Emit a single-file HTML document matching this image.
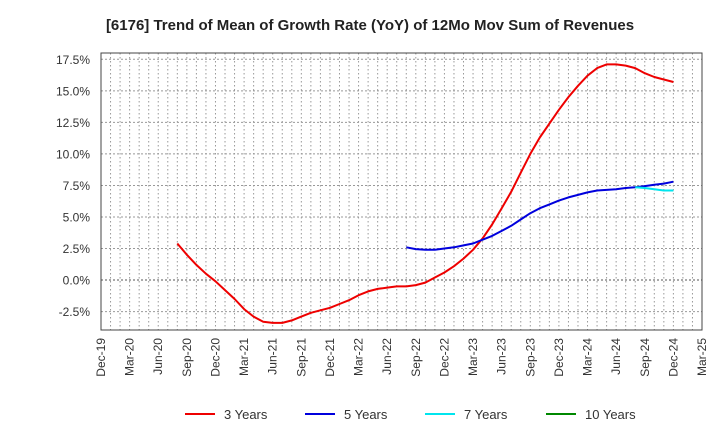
<!DOCTYPE html>
<html><head><meta charset="utf-8"><style>
body{margin:0;background:#fff;font-family:"Liberation Sans",sans-serif;}
svg text{font-family:"Liberation Sans",sans-serif;}
</style></head><body>
<svg id="c" width="720" height="440"></svg>
<script>
const yTicks=[17.5,15,12.5,10,7.5,5,2.5,0,-2.5];
const xLabels=["Dec-19","Mar-20","Jun-20","Sep-20","Dec-20","Mar-21","Jun-21","Sep-21","Dec-21","Mar-22","Jun-22","Sep-22","Dec-22","Mar-23","Jun-23","Sep-23","Dec-23","Mar-24","Jun-24","Sep-24","Dec-24","Mar-25"];
const red3Start=8;
const red3=[2.9,2.0,1.2,0.5,-0.1,-0.8,-1.5,-2.3,-2.9,-3.3,-3.4,-3.4,-3.2,-2.9,-2.6,-2.4,-2.2,-1.9,-1.6,-1.2,-0.9,-0.7,-0.6,-0.5,-0.5,-0.4,-0.2,0.2,0.6,1.1,1.7,2.4,3.3,4.4,5.7,7.0,8.5,10.0,11.3,12.4,13.5,14.5,15.4,16.2,16.8,17.1,17.1,17.0,16.8,16.4,16.1,15.9,15.7];
const blue5Start=32;
const blue5=[2.6,2.45,2.4,2.4,2.5,2.6,2.75,2.9,3.2,3.5,3.9,4.3,4.8,5.3,5.7,6.0,6.3,6.55,6.75,6.95,7.1,7.15,7.2,7.3,7.35,7.45,7.55,7.65,7.8];
const cyan7Start=56;
const cyan7=[7.35,7.3,7.2,7.1,7.1];
const green10=[];

const NS="http://www.w3.org/2000/svg";
const svg=document.getElementById('c');
const L=101,R=702,T=53,B=330,yMin=-3.96,yMax=18.0,nMonths=63;
const xs=m=>L+(R-L)*m/nMonths;
const ys=v=>B-(B-T)*(v-yMin)/(yMax-yMin);
function mk(tag,attrs){const e=document.createElementNS(NS,tag);for(const k in attrs)e.setAttribute(k,attrs[k]);svg.appendChild(e);return e;}

let t=mk('text',{x:370,y:30,'text-anchor':'middle','font-size':'15','font-weight':'bold',fill:'#222'});


t.textContent='[6176]  Trend of Mean of Growth Rate (YoY) of 12Mo Mov Sum of Revenues';

for(let m=1;m<nMonths;m++){
  const g=mk('line',{x1:xs(m),x2:xs(m),y1:T,y2:B,stroke:'#999','stroke-dasharray':'1.5,2.5','stroke-width':1});
  
  
}
yTicks.forEach(v=>{
  const g=mk('line',{x1:L,x2:R,y1:ys(v),y2:ys(v),stroke:v===0?'#555':'#999','stroke-dasharray':'2,2','stroke-width':1});
  
  
  const tx=mk('text',{x:L-11,y:ys(v)+4.5,'text-anchor':'end','font-size':'12',fill:'#333'});
  
  
  tx.textContent=v.toFixed(1)+'%';
});
xLabels.forEach((s,i)=>{
  const x=xs(i*3);
  const tx=mk('text',{x:x+4,y:B+8,'text-anchor':'end','font-size':'12',fill:'#333',transform:`rotate(-90 ${x+4} ${B+8})`});
  
  
  tx.textContent=s;
});
const frame=mk('rect',{x:L,y:T,width:R-L,height:B-T,fill:'none',stroke:'#444','stroke-width':1});



function series(vals,start,color,name){
  if(!vals.length)return;
  const d=vals.map((v,i)=>(i?'L':'M')+xs(start+i).toFixed(1)+','+ys(v).toFixed(1)).join(' ');
  const p=mk('path',{d:d,fill:'none',stroke:color,'stroke-width':2,'stroke-linejoin':'round'});
  
  
}
series(red3,red3Start,'#ee0000','line-3-years');
series(blue5,blue5Start,'#0000dd','line-5-years');
series(cyan7,cyan7Start,'#00e5ee','line-7-years');
series(green10,60,'#008800','line-10-years');

const leg=[['3 Years','#ee0000',185],['5 Years','#0000dd',305],['7 Years','#00e5ee',425],['10 Years','#008800',546]];
leg.forEach(([s,c,x])=>{
  const l=mk('line',{x1:x,x2:x+30,y1:414,y2:414,stroke:c,'stroke-width':2});
  
  
  const tx=mk('text',{x:x+39,y:419,'font-size':'13',fill:'#333'});
  
  
  tx.textContent=s;
});
</script>
</body></html>
